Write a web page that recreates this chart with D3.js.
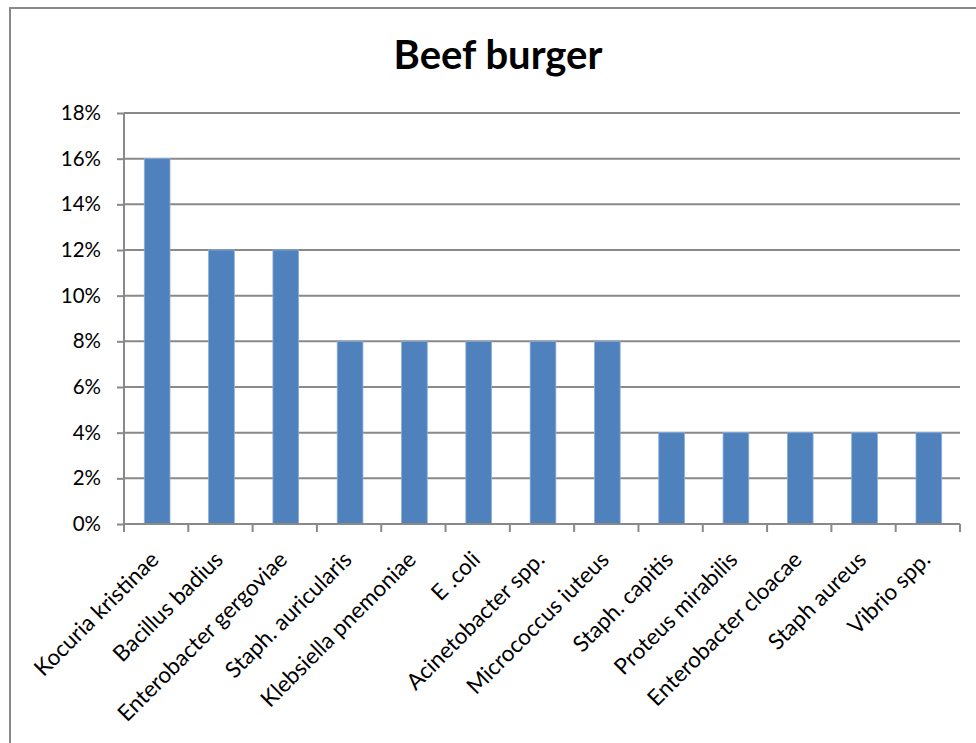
<!DOCTYPE html>
<html>
<head>
<meta charset="utf-8">
<script src="https://cdn.jsdelivr.net/npm/d3@7"></script>
<style>
  html, body { margin: 0; padding: 0; background: #fff; }
  svg { display: block; }
  text { font-family: Lato, "Open Sans", sans-serif; fill: #000; }
</style>
</head>
<body>
<svg id="chart" width="976" height="743"></svg>
<script>
// Share of isolates found in beef burger samples
const categories = [
  "Kocuria kristinae", "Bacillus badius", "Enterobacter gergoviae",
  "Staph. auricularis", "Klebsiella pnemoniae", "E .coli",
  "Acinetobacter spp.", "Micrococcus iuteus", "Staph. capitis",
  "Proteus mirabilis", "Enterobacter cloacae", "Staph aureus", "Vibrio spp."
];
const percentages = [16, 12, 12, 8, 8, 8, 8, 8, 4, 4, 4, 4, 4];
const yTicks = [0, 2, 4, 6, 8, 10, 12, 14, 16, 18];
const chartTitle = "Beef burger";

const svg = d3.select("#chart");
const W = 976, H = 743;
const plot = { left: 124, right: 960, top: 113, bottom: 524 };
const gridColor = "#898989";

// Outer frame of the chart
svg.append("rect")
  .attr("x", 10).attr("y", 8)
  .attr("width", W + 20).attr("height", H + 20)
  .attr("fill", "#fff")
  .attr("stroke", gridColor).attr("stroke-width", 2);

// Title
svg.append("text")
  .attr("x", 498).attr("y", 69)
  .attr("text-anchor", "middle")
  .style("font-size", "40px")
  .style("font-weight", "bold")
  .text(chartTitle);

const x = d3.scaleBand()
  .domain(categories)
  .range([plot.left, plot.right])
  .paddingInner(0).paddingOuter(0);

const y = d3.scaleLinear()
  .domain([0, 18])
  .range([plot.bottom, plot.top]);

// Horizontal gridlines
svg.append("g")
  .selectAll("line")
  .data(yTicks.filter(t => t > 0))
  .join("line")
  .attr("x1", plot.left).attr("x2", plot.right)
  .attr("y1", d => y(d)).attr("y2", d => y(d))
  .attr("stroke", gridColor).attr("stroke-width", 2);

// Bars
const barW = x.bandwidth() * 0.4;
svg.append("g")
  .selectAll("rect")
  .data(percentages)
  .join("rect")
  .attr("x", (d, i) => x(categories[i]) + (x.bandwidth() - barW) / 2 + 1)
  .attr("y", d => y(d))
  .attr("width", barW)
  .attr("height", d => y(0) - y(d))
  .attr("fill", "#4F81BD")
  .attr("stroke", "#8DAEDA")
  .attr("stroke-width", 0.8);

// Y axis
const yAxis = d3.axisLeft(y)
  .tickValues(yTicks)
  .tickFormat(d => d + "%")
  .tickSize(7)
  .tickPadding(16);
const gy = svg.append("g")
  .attr("transform", `translate(${plot.left},0)`)
  .call(yAxis);
gy.select(".domain").attr("stroke", gridColor).attr("stroke-width", 2)
  .attr("d", `M0,${plot.top}V${plot.bottom}`);
gy.selectAll(".tick line").attr("stroke", gridColor).attr("stroke-width", 2);
gy.selectAll(".tick text")
  .style("font-size", "20.5px")
  .style("font-family", "Lato, 'Open Sans', sans-serif")
  .attr("fill", "#000");

// X axis: tick marks on category boundaries
const gx = svg.append("g");
gx.append("line")
  .attr("x1", plot.left).attr("x2", plot.right)
  .attr("y1", plot.bottom).attr("y2", plot.bottom)
  .attr("stroke", gridColor).attr("stroke-width", 2);
const boundaries = categories.map(c => x(c)).concat([plot.right]);
gx.selectAll("line.tk")
  .data(boundaries)
  .join("line")
  .attr("class", "tk")
  .attr("x1", d => d).attr("x2", d => d)
  .attr("y1", plot.bottom).attr("y2", plot.bottom + 8)
  .attr("stroke", gridColor).attr("stroke-width", 2);

// Rotated category labels
gx.selectAll("text")
  .data(categories)
  .join("text")
  .attr("text-anchor", "end")
  .attr("transform", d => `translate(${x(d) + x.bandwidth() / 2 + 4},${plot.bottom + 37}) rotate(-45)`)
  .style("font-size", "22.5px")
  .text(d => d);
</script>
</body>
</html>
